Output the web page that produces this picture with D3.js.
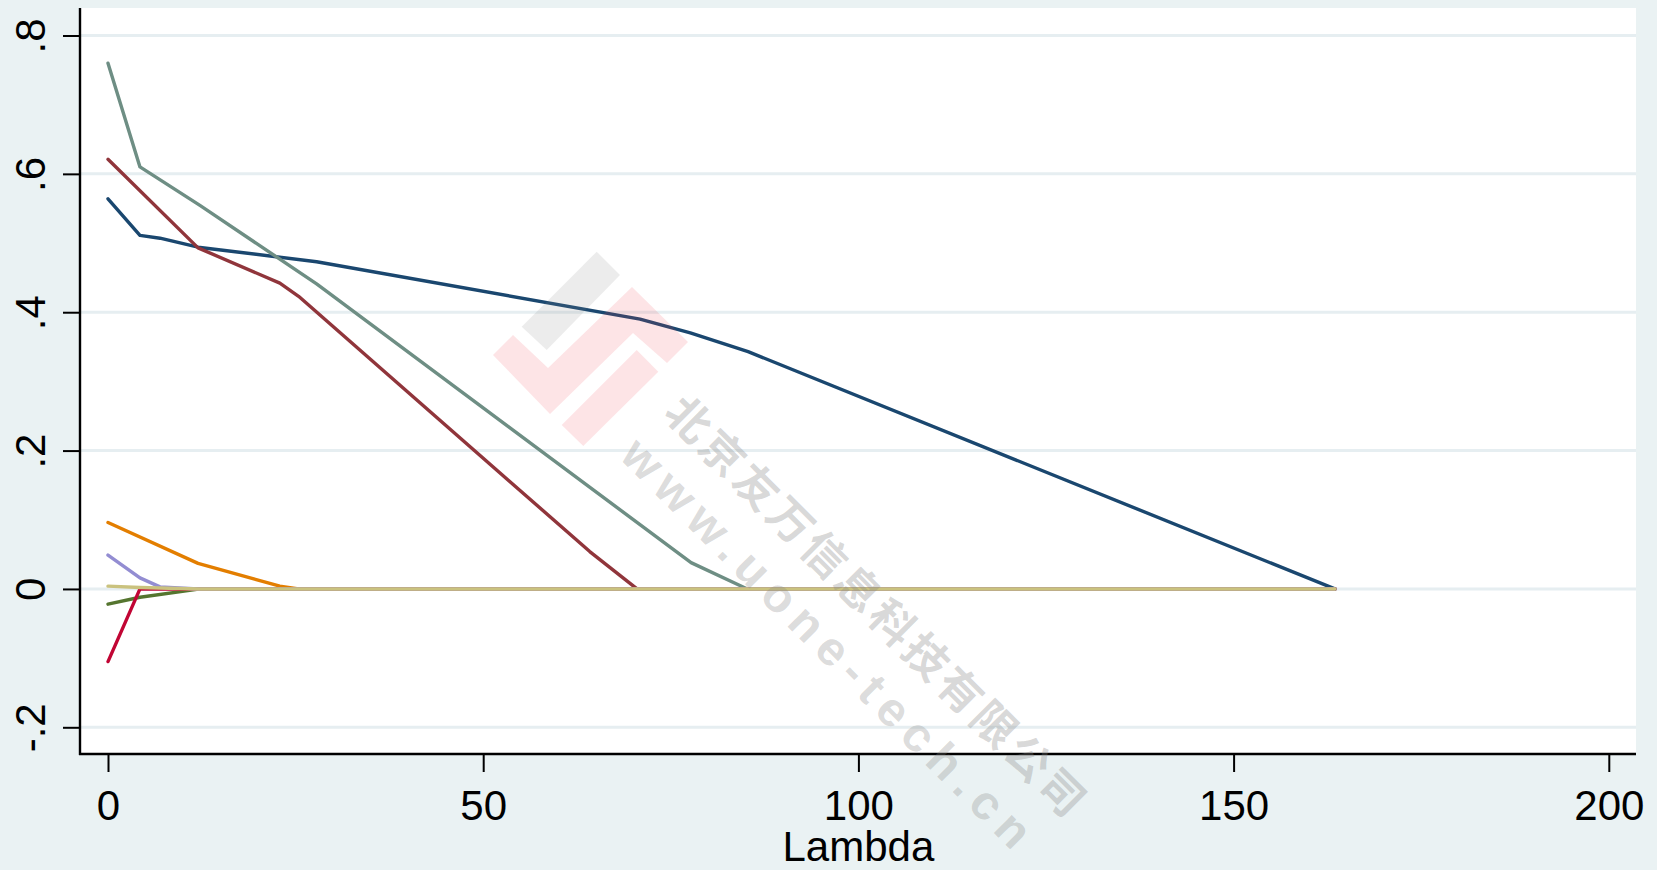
<!DOCTYPE html>
<html>
<head>
<meta charset="utf-8">
<script src="https://cdn.jsdelivr.net/npm/d3@7"></script>
<style>
  html, body { margin: 0; padding: 0; background: #eaf2f3; }
  svg { display: block; }
</style>
</head>
<body>
<div id="chart"></div>
<script>
// coefficient paths: [lambda, coefficient]
const navy = [[0, 0.564], [4.26, 0.511], [6.93, 0.507], [12.0, 0.494], [27.8, 0.473], [70.9, 0.390], [77.6, 0.370], [85.3, 0.343], [163.5, 0]];
const maroon = [[0, 0.621], [12.0, 0.493], [22.9, 0.442], [25.4, 0.423], [64.2, 0.054], [70.5, 0], [163.5, 0]];
const forestGreen = [[0, -0.022], [4.26, -0.012], [12.3, 0], [163.5, 0]];
const dkorange = [[0, 0.096], [12.0, 0.037], [22.9, 0.004], [25.4, 0], [163.5, 0]];
const teal = [[0, 0.760], [4.26, 0.610], [12.3, 0.554], [27.8, 0.441], [77.7, 0.038], [85.2, 0], [163.5, 0]];
const cranberry = [[0, -0.105], [4.26, 0], [163.5, 0]];
const lavender = [[0, 0.049], [4.26, 0.016], [6.93, 0.003], [12.0, 0], [163.5, 0]];
const khaki = [[0, 0.004], [4.26, 0.002], [12.0, 0], [163.5, 0]];

const seriesList = [navy, maroon, forestGreen, dkorange, teal, cranberry, lavender, khaki];
const seriesColors = ["#1a476f", "#90353b", "#55752f", "#e37e00", "#6e8e84", "#c10534", "#938dd2", "#cac27e"];

const xTicks = [0, 50, 100, 150, 200];
const yTicks = [-0.2, 0, 0.2, 0.4, 0.6, 0.8];
const yTickLabels = ["-.2", "0", ".2", ".4", ".6", ".8"];
const xTitle = "Lambda";
const watermarkName = "北京友万信息科技有限公司";
const watermarkUrl = "www.uone-tech.cn";

const width = 1657, height = 870;
const plot = { left: 80, right: 1636, top: 8, bottom: 754 };
const font = "'Liberation Sans', Arial, sans-serif";

const svg = d3.select("#chart").append("svg")
  .attr("width", width)
  .attr("height", height);

svg.append("rect").attr("width", width).attr("height", height).attr("fill", "#eaf2f3");
svg.append("rect")
  .attr("x", plot.left).attr("y", plot.top)
  .attr("width", plot.right - plot.left).attr("height", plot.bottom - plot.top)
  .attr("fill", "#ffffff");

const x = d3.scaleLinear().domain([0, 200]).range([108, 1608.8]);
const y = d3.scaleLinear().domain([-0.2, 0.8]).range([727.3, 35.5]);

// grid
svg.append("g")
  .selectAll("line")
  .data(yTicks)
  .enter()
  .append("line")
  .attr("x1", plot.left)
  .attr("x2", plot.right)
  .attr("y1", (d) => y(d))
  .attr("y2", (d) => y(d))
  .attr("stroke", "#e6eef1")
  .attr("stroke-width", 3);

// lines
const line = d3.line()
  .x((d) => x(d[0]))
  .y((d) => y(d[1]));

svg.append("g")
  .selectAll("path")
  .data(seriesList)
  .enter()
  .append("path")
  .attr("d", (d) => line(d))
  .attr("fill", "none")
  .attr("stroke", (d, i) => seriesColors[i])
  .attr("stroke-width", 3.4)
  .attr("stroke-linejoin", "round")
  .attr("stroke-linecap", "round");

// axes
const xAxis = svg.append("g")
  .attr("transform", `translate(0,${plot.bottom})`)
  .call(d3.axisBottom(x).tickValues(xTicks).tickSize(18).tickPadding(18).tickSizeOuter(0));
xAxis.select(".domain").remove();
xAxis.selectAll(".tick line").attr("stroke", "#000").attr("stroke-width", 2);
xAxis.selectAll(".tick text")
  .attr("fill", "#000")
  .style("font-family", font)
  .style("font-size", "42px")
  .attr("dy", "0.71em");

const yAxis = svg.append("g")
  .attr("transform", `translate(${plot.left},0)`)
  .call(d3.axisLeft(y).tickValues(yTicks).tickSize(17).tickSizeOuter(0)
    .tickFormat((d, i) => yTickLabels[i]));
yAxis.select(".domain").remove();
yAxis.selectAll(".tick line").attr("stroke", "#000").attr("stroke-width", 2);
yAxis.selectAll(".tick text")
  .attr("fill", "#000")
  .attr("x", null).attr("dy", null)
  .attr("text-anchor", "middle")
  .attr("transform", "translate(-35,0) rotate(-90)")
  .style("font-family", font)
  .style("font-size", "42px");

svg.append("line")
  .attr("x1", plot.left).attr("x2", plot.left)
  .attr("y1", plot.top).attr("y2", plot.bottom + 1)
  .attr("stroke", "#000").attr("stroke-width", 2.4);
svg.append("line")
  .attr("x1", plot.left - 1).attr("x2", plot.right)
  .attr("y1", plot.bottom).attr("y2", plot.bottom)
  .attr("stroke", "#000").attr("stroke-width", 2.4);

svg.append("text")
  .attr("x", x(100))
  .attr("y", 861)
  .attr("text-anchor", "middle")
  .style("font-family", font)
  .style("font-size", "42px")
  .text(xTitle);

// watermark
const wm = svg.append("g").style("pointer-events", "none");
wm.append("polygon")
  .attr("points", "596.7,251.7 620,275 546.7,350 521.7,326.7")
  .attr("fill", "#888").attr("fill-opacity", 0.16);
wm.append("polygon")
  .attr("points", "493,355 513,335 548,368 632,287 688,342 667,363 633,333 550,414")
  .attr("fill", "#f04050").attr("fill-opacity", 0.14);
wm.append("polygon")
  .attr("points", "561.7,425 636.7,350 658.3,371.7 583.3,446")
  .attr("fill", "#f04050").attr("fill-opacity", 0.14);

wm.append("text")
  .attr("transform", "translate(879,605) rotate(45)")
  .attr("text-anchor", "middle")
  .attr("dominant-baseline", "central")
  .style("font-family", "'Noto Sans CJK SC', sans-serif")
  .style("font-size", "44px")
  .style("font-weight", 700)
  .style("letter-spacing", "4px")
  .attr("fill", "#888").attr("fill-opacity", 0.32)
  .text(watermarkName);

wm.append("text")
  .attr("transform", "translate(830,646) rotate(45)")
  .attr("text-anchor", "middle")
  .attr("dominant-baseline", "central")
  .style("font-family", font)
  .style("font-size", "48px")
  .style("font-weight", 700)
  .style("letter-spacing", "9px")
  .attr("fill", "#888").attr("fill-opacity", 0.3)
  .text(watermarkUrl);
</script>
</body>
</html>
